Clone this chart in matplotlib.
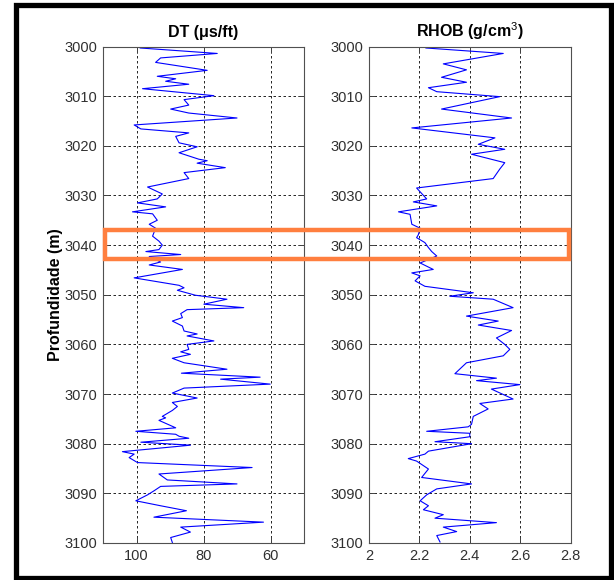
import matplotlib
matplotlib.use("Agg")
import matplotlib.pyplot as plt
from matplotlib.patches import Rectangle
from matplotlib.transforms import blended_transform_factory

plt.rcParams["font.family"] = ["Liberation Sans", "DejaVu Sans"]
plt.rcParams["mathtext.fontset"] = "custom"
plt.rcParams["mathtext.rm"] = "Liberation Sans"
plt.rcParams["mathtext.it"] = "Liberation Sans"

# sonic log
dt_depth = [3000.3, 3001.4, 3002.3, 3003.2, 3004.8, 3006.0, 3006.5, 3007.0, 3007.6, 3008.5,
            3009.9, 3010.7, 3011.8, 3012.6, 3013.4, 3014.4, 3015.8, 3016.6, 3017.4, 3018.1,
            3019.4, 3020.2, 3021.4, 3022.7, 3023.0, 3023.5, 3024.4, 3025.4, 3026.6, 3028.3,
            3029.7, 3030.7, 3031.5, 3032.3, 3033.3, 3033.7, 3035.0, 3035.8, 3036.6, 3037.5,
            3038.2, 3039.2, 3040.0, 3040.9, 3041.3, 3041.9, 3042.3, 3043.4, 3044.0, 3044.9,
            3046.6, 3048.1, 3048.6, 3049.1, 3050.1, 3050.9, 3051.9, 3052.6, 3053.0, 3053.8,
            3054.6, 3055.3, 3056.3, 3057.3, 3057.9, 3058.3, 3059.3, 3060.0, 3061.0, 3061.5,
            3062.0, 3062.8, 3063.7, 3065.0, 3065.8, 3066.6, 3067.0, 3068.0, 3068.8, 3069.8,
            3070.8, 3071.7, 3072.5, 3073.3, 3074.5, 3074.8, 3075.3, 3076.5, 3076.8, 3077.5,
            3078.1, 3078.5, 3078.9, 3079.7, 3080.3, 3081.6, 3082.1, 3082.8, 3083.8, 3084.8,
            3086.1, 3087.3, 3088.1, 3088.6, 3089.5, 3090.3, 3091.5, 3092.5, 3093.5, 3094.8,
            3095.8, 3096.8, 3097.8, 3098.9, 3099.9]
dt_values = [98.9, 75.9, 92.8, 94.3, 78.9, 93.8, 88.3, 91.3, 84.4, 98.2,
             76.9, 85.8, 84.4, 89.8, 84.4, 70.0, 100.7, 98.7, 84.4, 88.3,
             87.3, 81.9, 87.3, 81.4, 78.9, 81.9, 73.5, 85.8, 84.4, 96.7,
             92.3, 93.8, 99.7, 91.3, 101.2, 95.2, 93.8, 96.2, 94.3, 94.8,
             95.2, 93.3, 92.3, 93.3, 97.2, 86.8, 96.2, 92.8, 96.2, 86.3,
             100.7, 87.3, 85.8, 87.8, 82.4, 73.0, 79.9, 68.0, 84.9, 86.8,
             86.3, 89.3, 86.3, 85.8, 81.9, 84.9, 76.9, 84.9, 84.4, 86.8,
             83.9, 89.3, 85.8, 73.0, 86.6, 63.1, 74.9, 60.1, 85.8, 89.3,
             81.9, 89.3, 87.8, 89.3, 92.3, 91.3, 93.3, 89.3, 88.3, 100.2,
             88.3, 87.3, 84.4, 98.7, 83.9, 104.2, 100.7, 102.2, 99.7, 65.5,
             93.3, 90.8, 70.0, 92.8, 94.8, 96.7, 100.2, 92.8, 85.1, 94.8,
             62.1, 86.8, 83.9, 89.8, 89.3]

# density log
rhob_depth = [3000.3, 3001.4, 3003.5, 3004.7, 3006.2, 3007.2, 3008.3, 3009.1, 3010.1, 3012.6,
              3014.4, 3016.4, 3018.4, 3019.7, 3020.7, 3021.7, 3023.4, 3024.7, 3026.6, 3028.5,
              3030.7, 3031.3, 3032.1, 3033.3, 3033.8, 3035.8, 3036.6, 3037.9, 3038.5, 3039.5,
              3040.5, 3041.3, 3042.2, 3043.6, 3044.9, 3045.6, 3046.2, 3047.2, 3048.3, 3049.6,
              3050.3, 3050.9, 3052.6, 3054.3, 3055.3, 3056.1, 3057.2, 3058.7, 3060.0, 3061.0,
              3062.3, 3063.7, 3065.9, 3066.8, 3067.3, 3068.1, 3069.0, 3071.0, 3071.9, 3073.0,
              3074.5, 3076.1, 3076.6, 3077.5, 3077.9, 3078.6, 3079.6, 3080.0, 3081.5, 3082.1,
              3083.0, 3083.5, 3085.1, 3086.8, 3088.1, 3089.1, 3090.3, 3091.5, 3092.5, 3093.3,
              3094.3, 3095.0, 3095.9, 3096.8, 3097.7, 3098.5, 3099.8]
rhob_values = [2.226, 2.533, 2.295, 2.387, 2.288, 2.387, 2.236, 2.269, 2.519, 2.288,
               2.566, 2.170, 2.500, 2.434, 2.539, 2.407, 2.539, 2.519, 2.493, 2.189,
               2.229, 2.176, 2.269, 2.117, 2.163, 2.170, 2.203, 2.196, 2.189, 2.222,
               2.236, 2.249, 2.269, 2.203, 2.255, 2.170, 2.203, 2.183, 2.222, 2.414,
               2.321, 2.493, 2.572, 2.387, 2.513, 2.434, 2.566, 2.506, 2.539, 2.559,
               2.533, 2.387, 2.341, 2.506, 2.427, 2.599, 2.486, 2.572, 2.440, 2.473,
               2.414, 2.407, 2.394, 2.229, 2.400, 2.400, 2.262, 2.407, 2.236, 2.222,
               2.156, 2.189, 2.236, 2.209, 2.407, 2.269, 2.229, 2.203, 2.236, 2.216,
               2.295, 2.262, 2.506, 2.295, 2.348, 2.269, 2.282]

depth_ticks = [3000, 3010, 3020, 3030, 3040, 3050, 3060, 3070, 3080, 3090, 3100]
dt_ticks = [100, 80, 60]
rhob_ticks = [2, 2.2, 2.4, 2.6, 2.8]
rhob_ticklabels = ["2", "2.2", "2.4", "2.6", "2.8"]
highlight_top, highlight_bottom = 3037.0, 3042.8

W, H = 614, 580
fig = plt.figure(figsize=(W / 100, H / 100), dpi=100)

ax_dt = fig.add_axes([103 / W, 1 - 543 / H, 201 / W, 496.5 / H])
ax_rho = fig.add_axes([369 / W, 1 - 543 / H, 201.5 / W, 496.5 / H])

text_col = "#303030"
for ax in (ax_dt, ax_rho):
    ax.set_ylim(3100, 3000)
    ax.set_yticks(depth_ticks)
    ax.grid(True, color="black", linestyle=(0, (3, 3)), linewidth=0.6)
    ax.tick_params(direction="in", top=True, right=True, length=4, width=0.7,
                   labelsize=10.5, labelcolor=text_col, color="#404040", pad=4)
    for sp in ax.spines.values():
        sp.set_color("#505050")
        sp.set_linewidth(0.8)
    ax.set_axisbelow(True)

ax_dt.plot(dt_values, dt_depth, color="#0000ff", linewidth=0.8)
ax_dt.set_xlim(110, 50)
ax_dt.set_xticks(dt_ticks)
ax_dt.set_title("DT (\u03bcs/ft)", fontsize=11.5, fontweight="bold", pad=7)
ax_dt.set_ylabel("Profundidade (m)", fontsize=11.5, fontweight="bold")
ax_dt.yaxis.set_label_coords(-0.20, 0.5)

ax_rho.plot(rhob_values, rhob_depth, color="#0000ff", linewidth=0.8)
ax_rho.set_xlim(2, 2.8)
ax_rho.set_xticks(rhob_ticks)
ax_rho.set_xticklabels(rhob_ticklabels)
ax_rho.set_title("RHOB (g/cm$^3$)", fontsize=11.5, fontweight="bold", pad=7)

# highlighted depth window spanning both tracks
x0 = ax_dt.get_position().x0 + 2 / W
x1 = ax_rho.get_position().x1 - 2 / W
tr = blended_transform_factory(fig.transFigure, ax_dt.transData)
fig.add_artist(Rectangle((x0, highlight_top), x1 - x0, highlight_bottom - highlight_top,
                         transform=tr, fill=False, edgecolor="#ff7f3f",
                         linewidth=3.2, clip_on=False, zorder=10))

# black frame around the whole figure
fig.add_artist(Rectangle((15.5 / W, 2.5 / H), 595.5 / W, 573 / H,
                         transform=fig.transFigure, fill=False,
                         edgecolor="black", linewidth=3.8, clip_on=False))

fig.savefig("out.png", dpi=100)
